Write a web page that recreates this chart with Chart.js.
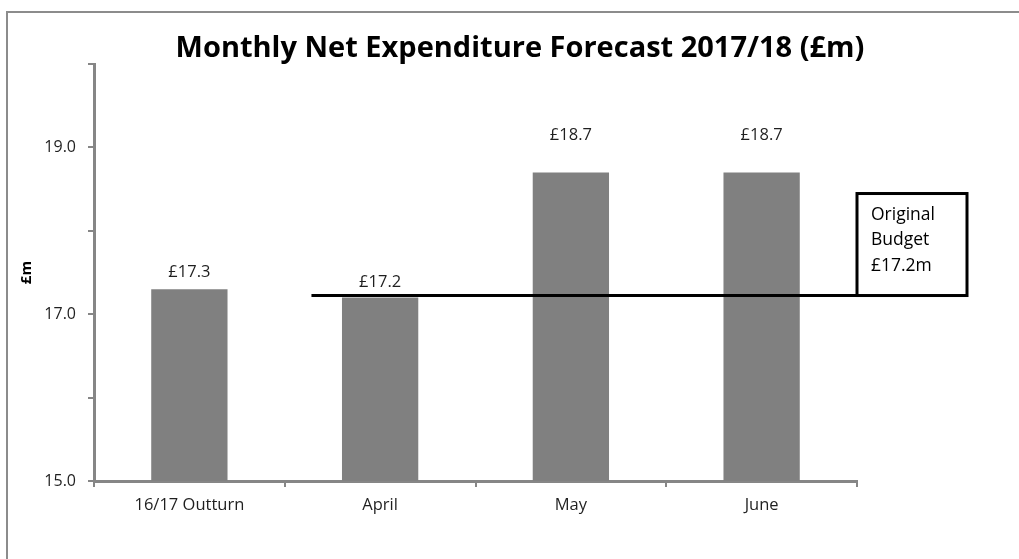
<!DOCTYPE html>
<html>
<head>
<meta charset="utf-8">
<title>Monthly Net Expenditure Forecast</title>
<script src="https://cdn.jsdelivr.net/npm/chart.js@4/dist/chart.umd.min.js"></script>
<style>
  html, body { margin: 0; padding: 0; background: #fff; }
  #wrap { width: 1019px; height: 559px; }
</style>
</head>
<body>
<div id="wrap"><canvas id="expChart" width="1019" height="559"></canvas></div>
<script>
// values (£m)
const categories = ['16/17 Outturn', 'April', 'May', 'June'];
const netExpenditure = [17.3, 17.2, 18.7, 18.7];
const originalBudget = 17.2;
const yTickLabels = ['15.0', '17.0', '19.0'];
const budgetNote = ['Original', 'Budget', '£17.2m'];

// how far each value label sits above its bar
const labelLift = [17, 15, 37, 37];

const FONT = "'Open Sans', 'Noto Sans', sans-serif";
const AXIS_GREY = '#868686';

// white page + the grey frame at top/left, title on top
const frame = {
    id: 'frame',
    beforeDraw(chart) {
        const c = chart.ctx;
        c.save();
        c.fillStyle = '#fff';
        c.fillRect(0, 0, chart.width, chart.height);
        c.strokeStyle = '#8c8c8c';
        c.lineWidth = 2;
        c.beginPath();
        c.moveTo(7, chart.height);
        c.lineTo(7, 12);
        c.lineTo(chart.width, 12);
        c.stroke();
        c.restore();
    },
    afterDraw(chart) {
        const c = chart.ctx;
        c.save();
        c.fillStyle = '#000';
        c.font = 'bold 29px ' + FONT;
        c.textAlign = 'center';
        c.textBaseline = 'middle';
        c.fillText('Monthly Net Expenditure Forecast 2017/18 (£m)', 520, 49);
        c.restore();
    }
};

// value labels above the bars
const valueLabels = {
    id: 'valueLabels',
    afterDatasetsDraw(chart) {
        const c = chart.ctx;
        const meta = chart.getDatasetMeta(0);
        c.save();
        c.fillStyle = '#1f1f1f';
        c.font = '16.5px ' + FONT;
        c.textAlign = 'center';
        c.textBaseline = 'middle';
        meta.data.forEach((bar, i) => {
            c.fillText('£' + netExpenditure[i].toFixed(1), bar.x, bar.y - labelLift[i]);
        });
        c.restore();
    }
};

// budget line running into the note box on the right
const budgetLine = {
    id: 'budgetLine',
    afterDraw(chart) {
        const x = chart.scales.x, y = chart.scales.y;
        const c = chart.ctx;
        const ly = y.getPixelForValue(originalBudget) - 2;
        const x0 = x.getPixelForValue(0.64);
        const boxL = x.right;
        const boxR = boxL + 110;
        const boxT = ly - 102;

        c.save();
        c.strokeStyle = '#000';
        c.lineWidth = 3;
        c.beginPath();
        c.moveTo(x0, ly);
        c.lineTo(boxL, ly);
        c.stroke();

        c.fillStyle = '#fff';
        c.fillRect(boxL, boxT, boxR - boxL, ly - boxT);
        c.strokeRect(boxL, boxT, boxR - boxL, ly - boxT);

        c.fillStyle = '#000';
        c.font = '17.5px ' + FONT;
        c.textAlign = 'left';
        c.textBaseline = 'middle';
        budgetNote.forEach((t, i) => {
            c.fillText(t, boxL + 14, boxT + 21 + i * 25.5);
        });
        c.restore();
    }
};

new Chart(document.getElementById('expChart'), {
    type: 'bar',
    data: {
        labels: categories,
        datasets: [{
            data: netExpenditure,
            backgroundColor: '#808080',
            borderWidth: 0,
            barPercentage: 0.4,
            categoryPercentage: 1
        }]
    },
    options: {
        responsive: false,
        animation: false,
        layout: { padding: { top: 64, right: 162, left: 0, bottom: 0 } },
        plugins: {
            legend: { display: false },
            tooltip: { enabled: false }
        },
        scales: {
            x: {
                offset: true,
                afterFit(scale) { scale.height = 78; },
                grid: {
                    offset: true,
                    drawOnChartArea: false,
                    drawTicks: true,
                    tickLength: 6,
                    color: AXIS_GREY,
                    lineWidth: 2
                },
                border: { color: AXIS_GREY, width: 3 },
                ticks: {
                    color: '#1f1f1f',
                    padding: 8,
                    font: { family: FONT, size: 16.5 }
                }
            },
            y: {
                min: 15,
                max: 20,
                afterFit(scale) { scale.width = 94; },
                grid: {
                    drawOnChartArea: false,
                    drawTicks: true,
                    tickLength: 6,
                    color: AXIS_GREY,
                    lineWidth: 2
                },
                border: { color: AXIS_GREY, width: 3 },
                ticks: {
                    stepSize: 1,
                    padding: 12,
                    color: '#1f1f1f',
                    font: { family: FONT, size: 16 },
                    callback(v) {
                        const lbl = Number(v).toFixed(1);
                        return yTickLabels.includes(lbl) ? lbl : '';
                    }
                },
                title: {
                    display: true,
                    text: '£m',
                    color: '#000',
                    padding: { top: 18, bottom: 0 },
                    font: { family: FONT, size: 15, weight: 'bold' }
                }
            }
        }
    },
    plugins: [frame, valueLabels, budgetLine]
});
</script>
</body>
</html>
